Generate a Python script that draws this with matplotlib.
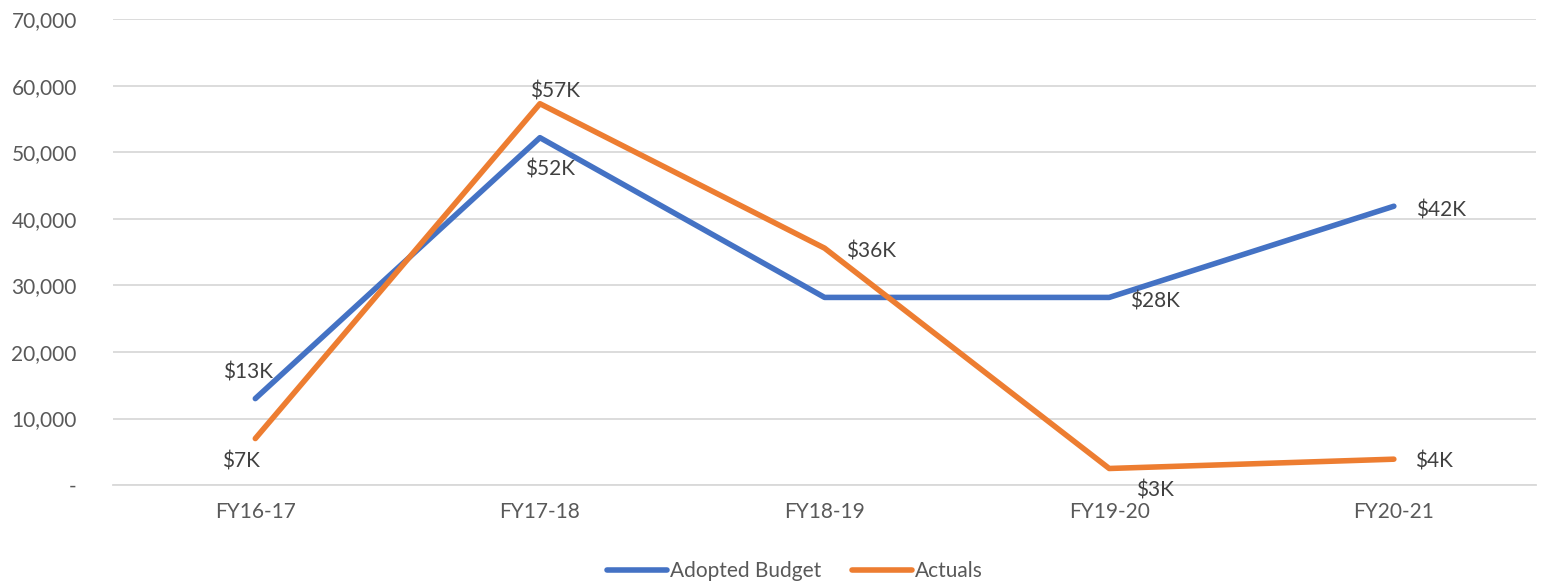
import matplotlib.pyplot as plt
from matplotlib.ticker import FuncFormatter, MultipleLocator

plt.rcParams['font.family'] = ['Lato', 'DejaVu Sans']

years = ['FY16-17', 'FY17-18', 'FY18-19', 'FY19-20', 'FY20-21']
budget = [13000, 52200, 28200, 28200, 41900]
actuals = [7000, 57300, 35600, 2500, 3900]

# label text per point (None = no label) and offset in pixels
budget_labels = ['$13K', '$52K', None, '$28K', '$42K']
budget_offsets = [(-7, 26), (10, -32), None, (46, -4), (47, -4)]
actual_labels = ['$7K', '$57K', '$36K', '$3K', '$4K']
actual_offsets = [(-14, -23), (15, 12), (46, -3), (46, -22), (40, -2)]

blue = '#4472C4'
orange = '#ED7D31'
grey = '#595959'

fig = plt.figure(figsize=(15.52, 5.81), dpi=100)
ax = fig.add_axes([0.0728, 0.165, 0.917, 0.802])

x = list(range(len(years)))
ax.plot(x, budget, color=blue, lw=4, solid_capstyle='round', label='Adopted Budget', zorder=3)
ax.plot(x, actuals, color=orange, lw=4, solid_capstyle='round', label='Actuals', zorder=3)

for xi, v, t, off in zip(x, budget, budget_labels, budget_offsets):
    if t:
        ax.annotate(t, (xi, v), xytext=off, textcoords='offset pixels',
                    ha='center', va='center', fontsize=15, color='#404040')
for xi, v, t, off in zip(x, actuals, actual_labels, actual_offsets):
    ax.annotate(t, (xi, v), xytext=off, textcoords='offset pixels',
                ha='center', va='center', fontsize=15, color='#404040')

ax.set_xlim(-0.5, 4.5)
ax.set_ylim(0, 70000)
ax.yaxis.set_major_locator(MultipleLocator(10000))
ax.yaxis.set_major_formatter(FuncFormatter(lambda v, p: '-' if v == 0 else '{:,.0f}'.format(v)))
ax.set_xticks(x)
ax.set_xticklabels(years)
ax.tick_params(axis='both', length=0, labelsize=15, labelcolor=grey)
ax.tick_params(axis='y', pad=26)
ax.tick_params(axis='x', pad=12)
ax.grid(axis='y', color='#D9D9D9', lw=1.3)
ax.set_axisbelow(True)
for s in ['top', 'right', 'left']:
    ax.spines[s].set_visible(False)
ax.spines['bottom'].set_color('#D9D9D9')
ax.spines['bottom'].set_linewidth(1.3)

ax.legend(loc='center', bbox_to_anchor=(0.479, -0.184), ncol=2, frameon=False,
          fontsize=15, labelcolor=grey, handlelength=2.9, handletextpad=0.1,
          columnspacing=1.5)

fig.savefig('out.png', dpi=100)
